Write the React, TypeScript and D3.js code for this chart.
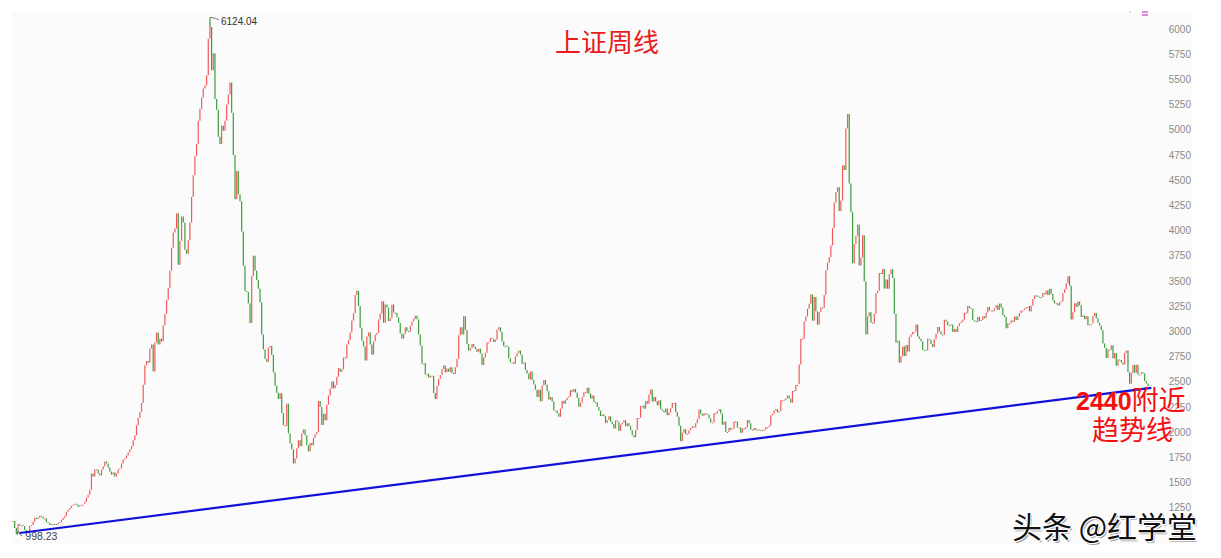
import React from 'react';
import * as d3 from 'd3';

// weekly closes of the Shanghai Composite (May 2005 - Jan 2019)
const closes2005 = [1130, 1060, 1013, 1100, 1085, 1090, 1080, 1040, 1020, 1030, 1080, 1090, 1120, 1160, 1150, 1160, 1180, 1170, 1155, 1155, 1120, 1110, 1090, 1100, 1090, 1100, 1095, 1110, 1120, 1140, 1161];
const closes2006 = [1180, 1220, 1240, 1258, 1280, 1290, 1300, 1290, 1270, 1280, 1290, 1299, 1320, 1360, 1390, 1440, 1600, 1570, 1640, 1640, 1600, 1580, 1640, 1672, 1720, 1700, 1660, 1620, 1590, 1610, 1570, 1600, 1640, 1650, 1700, 1740, 1752, 1780, 1810, 1840, 1870, 1930, 1980, 2080, 2150, 2210, 2300, 2480, 2675];
const closes2007 = [2716, 2700, 2840, 2880, 2612, 2900, 2998, 2881, 2938, 2911, 3072, 3183, 3323, 3444, 3612, 3841, 3990, 4030, 4181, 3670, 3910, 4150, 4090, 3820, 3780, 3915, 4090, 4345, 4560, 4750, 4870, 5100, 5218, 5330, 5420, 5450, 5552, 5913, 6030, 5600, 5770, 5316, 5210, 4940, 4870, 5050, 5000, 5100, 5262];
const closes2008 = [5360, 5480, 5180, 4760, 4320, 4600, 4370, 4300, 4000, 3660, 3410, 3400, 3290, 3094, 3557, 3761, 3613, 3520, 3433, 3300, 2980, 2830, 2736, 2710, 2850, 2865, 2776, 2605, 2470, 2400, 2340, 2397, 2200, 2080, 2075, 2293, 2000, 1900, 1840, 1700, 1750, 1850, 1930, 1871, 2000, 2036, 1980, 1880, 1820];
const closes2009 = [1904, 1880, 1954, 1990, 2011, 2320, 2261, 2082, 2193, 2128, 2282, 2374, 2444, 2513, 2445, 2477, 2559, 2645, 2610, 2632, 2751, 2743, 2881, 2923, 3000, 3117, 3190, 3372, 3412, 3261, 3046, 2916, 2860, 2720, 2960, 3000, 2880, 2779, 2911, 2976, 2995, 3128, 3187, 3308, 3096, 3276, 3247, 3113, 3140, 3277];
const closes2010 = [3196, 3195, 3150, 3094, 2989, 2939, 2985, 3051, 3013, 3010, 3067, 3109, 3134, 3166, 3130, 2980, 2870, 2688, 2697, 2583, 2592, 2553, 2570, 2570, 2398, 2340, 2471, 2540, 2575, 2637, 2672, 2604, 2642, 2610, 2655, 2598, 2588, 2655, 2738, 2971, 3051, 2978, 3159, 3023, 2884, 2820, 2842, 2886, 2857, 2835, 2808];
const closes2011 = [2839, 2791, 2677, 2752, 2797, 2899, 2905, 2944, 2934, 2906, 2928, 3030, 3050, 3007, 2911, 2863, 2870, 2858, 2743, 2705, 2705, 2688, 2762, 2797, 2820, 2779, 2688, 2701, 2627, 2593, 2534, 2612, 2528, 2483, 2432, 2359, 2431, 2317, 2473, 2528, 2481, 2416, 2333, 2360, 2315, 2224, 2225, 2199];
const closes2012 = [2163, 2244, 2319, 2292, 2330, 2351, 2363, 2428, 2410, 2439, 2404, 2349, 2263, 2302, 2359, 2406, 2396, 2452, 2394, 2344, 2373, 2309, 2306, 2260, 2225, 2170, 2185, 2168, 2103, 2132, 2168, 2114, 2092, 2047, 2127, 2114, 2024, 2086, 2104, 2128, 2069, 2099, 2069, 2030, 1980, 1959, 2033, 2150, 2153, 2269];
const closes2013 = [2276, 2243, 2317, 2291, 2385, 2433, 2314, 2359, 2318, 2278, 2328, 2237, 2225, 2206, 2245, 2178, 2205, 2247, 2299, 2301, 2210, 2163, 2073, 1920, 2007, 2039, 1992, 1992, 2029, 2052, 2068, 2057, 2098, 2139, 2236, 2191, 2174, 2198, 2193, 2183, 2149, 2106, 2106, 2197, 2196, 2220, 2237, 2196, 2085, 2116];
const closes2014 = [2013, 2013, 2053, 2033, 2044, 2115, 2113, 2056, 2057, 2004, 2047, 2041, 2058, 2130, 2098, 2037, 2027, 2052, 2034, 2039, 2029, 2030, 2024, 2036, 2059, 2060, 2075, 2177, 2194, 2226, 2240, 2206, 2217, 2326, 2331, 2329, 2347, 2374, 2341, 2302, 2420, 2418, 2478, 2487, 2682, 2937, 2938, 3108, 3157, 3235];
const closes2015 = [3285, 3376, 3116, 3351, 3210, 3076, 3203, 3246, 3241, 3372, 3617, 3691, 3748, 3863, 4034, 4287, 4394, 4441, 4205, 4309, 4657, 4611, 5023, 5166, 4478, 4193, 3686, 3877, 3957, 4070, 3663, 3744, 3965, 3507, 2980, 3160, 3200, 3097, 3092, 3183, 3391, 3412, 3590, 3580, 3630, 3436, 3525, 3434, 3578, 3627, 3539];
const closes2016 = [3186, 2901, 2916, 2700, 2763, 2860, 2767, 2874, 2810, 2955, 2979, 3003, 3009, 3078, 2959, 2938, 2913, 2827, 2825, 2822, 2938, 2927, 2885, 2854, 2932, 2988, 3054, 3012, 2979, 2976, 3125, 3108, 3070, 3067, 3078, 3003, 3033, 3004, 3063, 3090, 3104, 3125, 3196, 3192, 3262, 3243, 3232, 3122, 3110, 3104];
const closes2017 = [3154, 3113, 3123, 3159, 3140, 3197, 3253, 3217, 3218, 3213, 3237, 3269, 3222, 3286, 3246, 3173, 3154, 3040, 3090, 3090, 3117, 3105, 3158, 3123, 3157, 3192, 3217, 3222, 3237, 3253, 3262, 3208, 3268, 3331, 3367, 3365, 3353, 3352, 3348, 3390, 3378, 3416, 3371, 3432, 3382, 3317, 3289, 3289, 3266, 3297, 3307];
const closes2018 = [3391, 3429, 3488, 3558, 3462, 3129, 3199, 3289, 3254, 3307, 3269, 3152, 3168, 3131, 3159, 3071, 3082, 3091, 3163, 3193, 3141, 3095, 3067, 3021, 2889, 2847, 2747, 2831, 2829, 2873, 2740, 2795, 2669, 2730, 2725, 2702, 2681, 2797, 2821, 2606, 2490, 2598, 2676, 2599, 2679, 2579, 2588, 2605, 2593, 2516, 2494];
const closes2019 = [2465];

const weeklyCloses = [
  ...closes2005, ...closes2006, ...closes2007, ...closes2008, ...closes2009,
  ...closes2010, ...closes2011, ...closes2012, ...closes2013, ...closes2014,
  ...closes2015, ...closes2016, ...closes2017, ...closes2018, ...closes2019,
];

const yTicks = [1250, 1500, 1750, 2000, 2250, 2500, 2750, 3000, 3250, 3500, 3750, 4000, 4250, 4500, 4750, 5000, 5250, 5500, 5750, 6000];

const peakHigh = 6124.04;
const troughLow = 998.23;
// hand-drawn support line: value at the 2005 low and at the last week
const trendValues = [1010, 2450];

const W = 1221;
const H = 558;
const UP = '#f05a5a';
const DOWN = '#3c9c3c';
const CJK = '"Noto Sans CJK SC", "Noto Sans", sans-serif';
const LATIN = '"Liberation Sans", Arial, sans-serif';

const App = () => {
  const n = weeklyCloses.length;
  const x = d3.scaleLinear().domain([0, n - 1]).range([13, 1148]);
  const y = d3.scaleLinear().domain([1000, 6000]).range([534, 30]);

  const iMax = d3.maxIndex(weeklyCloses);
  const iMin = d3.minIndex(weeklyCloses);

  const candles = weeklyCloses.map((close, i) => {
    const open = i === 0 ? close : weeklyCloses[i - 1];
    const y1 = y(open);
    let y2 = y(close);
    if (Math.abs(y1 - y2) < 1) { y2 = y1 + 1; }
    return { i, open, close, y1, y2 };
  });

  const px = x(iMax);
  const pTop = y(peakHigh);
  const tx = x(iMin);
  const tBot = y(troughLow);

  return (
    <div style={{ position: 'absolute', left: 0, top: 0 }}>
      <svg width={W} height={H} style={{ display: 'block', background: '#fff' }}>
        <rect x={12} y={12} width={1181} height={533} fill="#fbfbfb" />

        {/* y axis on the right */}
        <g fontFamily={LATIN} fontSize={10} fill="#8a8a8a" textAnchor="end">
          {yTicks.map((t) => (
            <text key={t} x={1191} y={y(t)} dominantBaseline="middle">{t}</text>
          ))}
        </g>

        {/* candles */}
        <g strokeWidth={1.2}>
          {candles.map((c) => (
            <line
              key={c.i}
              x1={x(c.i)}
              x2={x(c.i)}
              y1={c.y1}
              y2={c.y2}
              stroke={c.close >= c.open ? UP : DOWN}
            />
          ))}
          <line x1={px} x2={px} y1={y(weeklyCloses[iMax])} y2={pTop} stroke={DOWN} />
          <line x1={tx} x2={tx} y1={y(weeklyCloses[iMin])} y2={tBot} stroke={DOWN} />
        </g>

        {/* high / low tags */}
        <path d={`M${px},${pTop} l3,0 M${px + 3},${pTop + 1} q2,-1 3,0 t3,1`} stroke="#555" fill="none" strokeWidth={0.8} />
        <text x={px + 11} y={pTop + 7.5} fontFamily={LATIN} fontSize={10} fill="#333">{peakHigh.toFixed(2)}</text>
        <path d={`M${tx + 1},${tBot - 2} l5,4 M${tx + 1},${tBot - 2} l0,2.5 M${tx + 1},${tBot - 2} l2.5,0`} stroke="#555" fill="none" strokeWidth={0.8} />
        <text x={tx + 9} y={tBot + 6} fontFamily={LATIN} fontSize={10.5} fill="#444">{troughLow.toFixed(2)}</text>

        {/* trend line */}
        <line
          x1={x(iMin + 2)}
          y1={y(trendValues[0])}
          x2={x(n + 1)}
          y2={y(trendValues[1])}
          stroke="#1010d8"
          strokeWidth={2.2}
        />

        {/* small marker top right */}
        <g stroke="#c040c0" strokeWidth={1.2}>
          <line x1={1142} x2={1148} y1={12} y2={12} />
          <line x1={1142} x2={1148} y1={15} y2={15} />
        </g>
        <circle cx={1130} cy={12} r={0.8} fill="#bbb" />

        <text x={607} y={52} textAnchor="middle" fontFamily={CJK} fontSize={26} fill="#e81c1c">上证周线</text>

        <text x={1076} y={410} fill="#f21010">
          <tspan fontFamily={LATIN} fontWeight="bold" fontSize={25}>2440</tspan>
          <tspan fontFamily={CJK} fontSize={27}>附近</tspan>
        </text>
        <text x={1092} y={440} fill="#f21010" fontFamily={CJK} fontSize={27}>趋势线</text>

        <text x={1013.5} y={539.5} fontFamily={CJK} fontSize={30} fill="#999">头条 @红学堂</text>
        <text
          x={1012}
          y={538}
          fontFamily={CJK}
          fontSize={30}
          fill="#111"
          stroke="#fff"
          strokeWidth={2.5}
          style={{ paintOrder: 'stroke' }}
        >
          头条 @红学堂
        </text>
      </svg>
    </div>
  );
};

export default App;
